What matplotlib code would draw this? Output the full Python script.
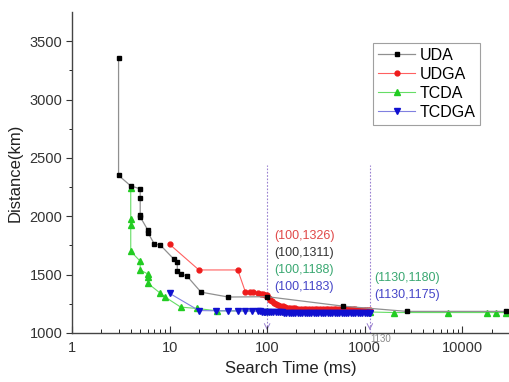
import matplotlib
matplotlib.use("Agg")
import matplotlib.pyplot as plt

plt.rcParams['font.family'] = ['Liberation Sans', 'DejaVu Sans']

# ---- data ----
uda_x = [3, 3, 4, 5, 5, 5, 5, 6, 6, 7, 8, 11, 12, 12, 13, 15, 21, 40, 100, 600, 2700, 28000]
uda_y = [3355, 2350, 2260, 2235, 2155, 2010, 1995, 1880, 1860, 1760, 1755, 1635, 1610, 1530,
         1505, 1490, 1350, 1308, 1311, 1230, 1185, 1185]

udga_x = [10, 20, 50, 60, 66, 72, 80, 87, 91, 95,
          100, 104, 108, 113, 118, 124, 130, 137, 145, 153,
          162, 172, 183, 195, 208, 222, 237, 253, 270, 288,
          307, 327, 349, 372, 397, 423, 451, 481, 513, 547,
          583, 622, 663, 707, 754, 804, 857, 914, 975, 1040,
          1090, 1130]
udga_y = [1760, 1540, 1540, 1350, 1350, 1350, 1345, 1335, 1330, 1328,
          1326, 1302, 1284, 1270, 1258, 1248, 1240, 1233, 1227, 1222,
          1218, 1215, 1212, 1210, 1209, 1208, 1207, 1207, 1206, 1206,
          1205, 1205, 1205, 1204, 1204, 1204, 1204, 1203, 1203, 1203,
          1203, 1202, 1202, 1202, 1202, 1202, 1201, 1201, 1201, 1200,
          1200, 1200]

tcda_x = [4, 4, 4, 4, 5, 5, 6, 6, 6, 8, 9, 13, 19, 31, 100, 1130, 2000, 7200, 18000, 22000, 28000]
tcda_y = [2240, 1975, 1925, 1700, 1615, 1540, 1505, 1478, 1425, 1342, 1308, 1222, 1210, 1190,
          1188, 1180, 1175, 1175, 1175, 1175, 1175]

tcdga_x = [10, 20, 30, 40, 50, 60, 70, 80, 84, 88,
           92, 96, 100, 105, 110, 116, 122, 128, 135, 142,
           150, 158, 166, 175, 185, 195, 206, 217, 229, 242,
           255, 269, 284, 300, 317, 335, 354, 374, 395, 417,
           440, 465, 491, 519, 548, 579, 612, 646, 682, 720,
           761, 804, 849, 897, 947, 1000, 1060, 1100, 1130]
tcdga_y = [1340, 1192, 1190, 1190, 1189, 1188, 1187, 1186, 1185, 1184,
           1183, 1183, 1183, 1182, 1181, 1180, 1179, 1178, 1177, 1176,
           1175, 1175, 1174, 1174, 1173, 1173, 1173, 1172, 1172, 1172,
           1172, 1172, 1171, 1171, 1171, 1171, 1171, 1171, 1170, 1170,
           1170, 1170, 1170, 1170, 1170, 1170, 1170, 1170, 1170, 1170,
           1170, 1170, 1170, 1170, 1170, 1170, 1170, 1170, 1170]

vlines_x = [100, 1130]
y_ticks = [1000, 1500, 2000, 2500, 3000, 3500]
x_ticks = [1, 10, 100, 1000, 10000]
x_ticklabels = ['1', '10', '100', '1000', '10000']

ann_left = [("(100,1326)", '#e04848'), ("(100,1311)", '#333333'),
            ("(100,1188)", '#3aa872'), ("(100,1183)", '#4646c8')]
ann_right = [("(1130,1180)", '#3aa872'), ("(1130,1175)", '#4646c8')]

# ---- figure ----
fig = plt.figure(figsize=(5.09, 3.82), dpi=100)
ax = fig.add_axes([0.1415, 0.1283, 0.858, 0.8403])
ax.set_xscale('log')
ax.set_xlim(1, 30000)
ax.set_ylim(1000, 3750)

for xv in vlines_x:
    ax.plot([xv, xv], [1000, 2440], color='#9a80d0', lw=0.8, ls=(0, (1.5, 1.5)), zorder=1)
    ax.annotate('', xy=(xv, 1000), xytext=(xv, 1075),
                arrowprops=dict(arrowstyle='->', color='#9a80d0', lw=0.7), zorder=1)

ax.plot(tcda_x, tcda_y, color='#66dd66', lw=0.8, marker='^', ms=4, mfc='#22cc22',
        mec='#22cc22', label='TCDA', zorder=2)
ax.plot(udga_x, udga_y, color='#ff6060', lw=0.8, marker='o', ms=3.5, mfc='#ee1c1c',
        mec='#ee1c1c', label='UDGA', zorder=3)
ax.plot(tcdga_x, tcdga_y, color='#8080e0', lw=0.8, marker='v', ms=4, mfc='#1010d0',
        mec='#1010d0', label='TCDGA', zorder=4)
ax.plot(uda_x, uda_y, color='#909090', lw=0.9, marker='s', ms=3.2, mfc='black',
        mec='black', label='UDA', zorder=5)

h, l = ax.get_legend_handles_labels()
order = [l.index(n) for n in ['UDA', 'UDGA', 'TCDA', 'TCDGA']]
leg = ax.legend([h[i] for i in order], [l[i] for i in order],
                loc='upper left', bbox_to_anchor=(0.69, 0.903), fontsize=11.5,
                frameon=True, fancybox=False, edgecolor='#888888', handlelength=2.3,
                handletextpad=0.3, borderpad=0.3, labelspacing=0.25, borderaxespad=0)
leg.get_frame().set_linewidth(0.8)

for i, (t, c) in enumerate(ann_left):
    ax.text(118, [1830, 1685, 1540, 1394][i], t, color=c, fontsize=9, va='center', ha='left')
for i, (t, c) in enumerate(ann_right):
    ax.text(1250, [1471, 1325][i], t, color=c, fontsize=9, va='center', ha='left')
ax.text(1150, 995, '1130', color='#888888', fontsize=7, va='top', ha='left')

ax.set_xticks(x_ticks)
ax.set_xticklabels(x_ticklabels)
ax.set_yticks(y_ticks)
ax.set_yticks([1250, 1750, 2250, 2750, 3250], minor=True)
ax.tick_params(axis='both', labelsize=10.5, colors='#333333')
ax.tick_params(axis='x', which='both', direction='in', pad=6)
ax.tick_params(axis='x', which='major', length=5)
ax.tick_params(axis='x', which='minor', length=3)
ax.tick_params(axis='y', which='major', direction='out', length=4, pad=3)
ax.tick_params(axis='y', which='minor', direction='out', length=2.5)
ax.spines['top'].set_visible(False)
ax.spines['right'].set_visible(False)
for s in ['left', 'bottom']:
    ax.spines[s].set_color('#444444')
    ax.spines[s].set_linewidth(1.0)

ax.set_xlabel('Search Time (ms)', fontsize=12, color='#222222', labelpad=4)
ax.set_ylabel('Distance(km)', fontsize=12, color='#222222', labelpad=5)

fig.savefig('out.png', dpi=100)
